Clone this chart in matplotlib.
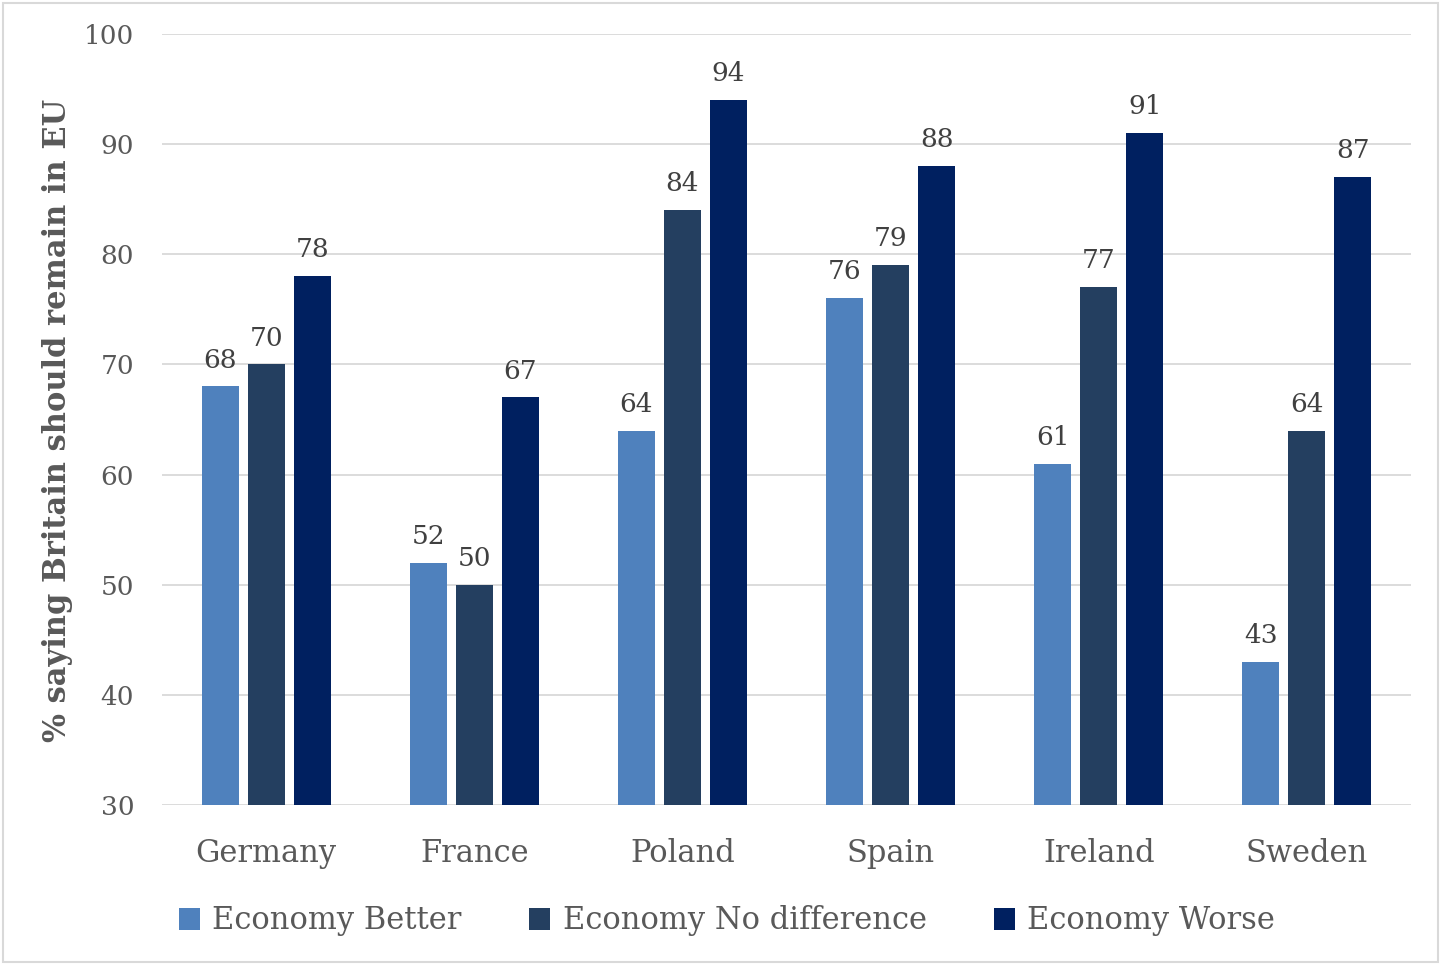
import matplotlib
matplotlib.use("Agg")
import matplotlib.pyplot as plt
import numpy as np
from matplotlib.patches import Rectangle

countries = ["Germany", "France", "Poland", "Spain", "Ireland", "Sweden"]
series_names = ["Economy Better", "Economy No difference", "Economy Worse"]
better = [68, 52, 64, 76, 61, 43]
no_diff = [70, 50, 84, 79, 77, 64]
worse = [78, 67, 94, 88, 91, 87]
yticks = [30, 40, 50, 60, 70, 80, 90, 100]
colors = ["#4F81BD", "#243F60", "#002060"]

plt.rcParams["font.family"] = ["DejaVu Serif"]
text_color = "#595959"

fig = plt.figure(figsize=(14.41, 9.65), dpi=100)
fig.patches.append(Rectangle((0.002, 0.003), 0.996, 0.994, transform=fig.transFigure,
                             fill=False, edgecolor="#D9D9D9", linewidth=1.5))
ax = fig.add_axes([162/1441, 1-805/965, (1411-162)/1441, (805-34)/965])

x = np.arange(len(countries))
width = 0.178
step = 0.221
for i, (vals, name) in enumerate(zip([better, no_diff, worse], series_names)):
    pos = x + (i-1)*step
    ax.bar(pos, [v-30 for v in vals], width, bottom=30, color=colors[i], label=name, zorder=3)
    for p, v in zip(pos, vals):
        ax.annotate(str(v), (p, v), xytext=(0, 10), textcoords="offset points",
                    ha="center", va="bottom", fontsize=19, color="#404040")

ax.set_xlim(-0.5, len(countries)-0.5)
ax.set_ylim(30, 100)
ax.set_yticks(yticks)
ax.yaxis.grid(True, color="#D9D9D9", linewidth=1.3, zorder=0)
ax.set_axisbelow(True)
for s in ax.spines.values():
    s.set_visible(False)
ax.tick_params(axis="both", length=0, colors=text_color)
ax.tick_params(axis="y", labelsize=19, pad=20)
ax.tick_params(axis="x", labelsize=22, pad=24)
ax.set_xticks(x)
ax.set_xticklabels(countries)
for lab in ax.get_yticklabels() + ax.get_xticklabels():
    lab.set_color(text_color)

fig.text(58/1441, 1-420/965, "% saying Britain should remain in EU", rotation=90,
         ha="center", va="center", fontsize=22, fontweight="bold", color=text_color)

handles, labels = ax.get_legend_handles_labels()
leg = fig.legend(handles, labels, loc="center", bbox_to_anchor=(727/1441, 1-921/965), ncol=3,
                 frameon=False, fontsize=22, handlelength=0.7, handleheight=0.7,
                 handletextpad=0.4, columnspacing=2.2)
for t in leg.get_texts():
    t.set_color(text_color)

fig.savefig("out.png", dpi=100)
